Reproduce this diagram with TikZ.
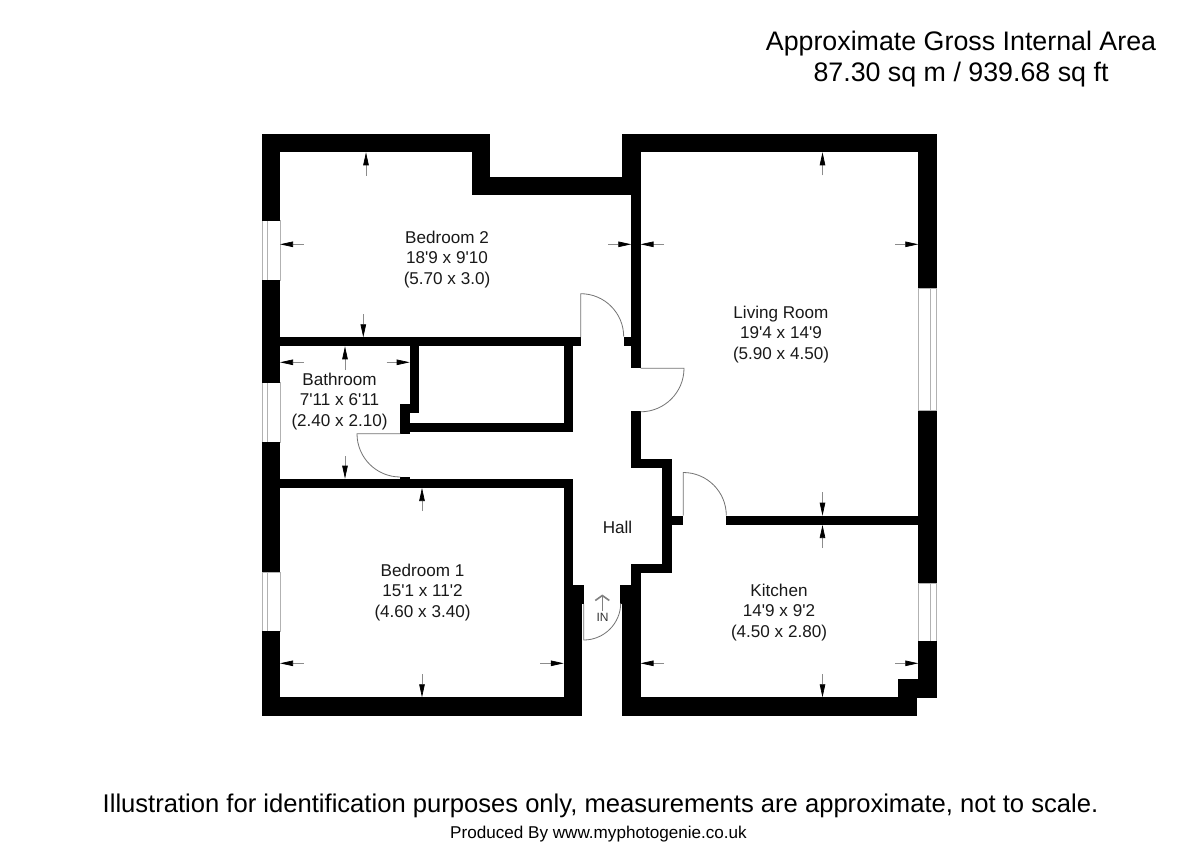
\documentclass[tikz,border=0pt]{standalone}
\usepackage{fontspec}
\setmainfont{Liberation Sans}[Ligatures=TeXOff]
\usetikzlibrary{arrows.meta}
\definecolor{thin}{gray}{0.70}
\tikzset{
  x=1pt,y=-1pt,
  wall/.style={fill=black,draw=none},
  win/.style={draw=thin,line width=1pt,fill=white},
  doorline/.style={draw=black!55,line width=0.8pt},
  dimarrow/.style={draw=black!45,line width=0.7pt,-{Triangle[length=13pt,width=5.5pt,color=black]}},
  room/.style={font=\fontsize{17.1}{20.8}\selectfont,align=center,text=black!90,inner sep=0pt},
  title/.style={font=\fontsize{26.8}{31.5}\selectfont,align=center,text=black,inner sep=0pt},
}
\newcommand{\wl}[2]{\fill[wall] (#1) rectangle (#2);}
\newcommand{\da}[2]{\draw[dimarrow] (#1) -- (#2);}
\begin{document}
\begin{tikzpicture}
\fill[white] (0,0) rectangle (1200,848);
\useasboundingbox (0,0) rectangle (1200,848);
% windows
\draw[win] (262,220.7) rectangle (280,280);   \draw[win] (267.3,220.7) -- (267.3,280);
\draw[win] (262,382.7) rectangle (280,442.3); \draw[win] (267.3,382.7) -- (267.3,442.3);
\draw[win] (262,572.3) rectangle (280,631.3); \draw[win] (267.3,572.3) -- (267.3,631.3);
\draw[win] (918.3,288.3) rectangle (936.5,410.7); \draw[win] (930.7,288.3) -- (930.7,410.7);
\draw[win] (918.3,583.3) rectangle (936.5,641.3); \draw[win] (930.7,583.3) -- (930.7,641.3);
% outer walls
\wl{261.7,133.7}{490.3,152.3}
\wl{471.7,133.7}{490.3,195.3}
\wl{471.7,176.7}{640.5,195.3}
\wl{622.3,133.7}{640.5,195.3}
\wl{622.3,133.7}{936.7,152.3}
\wl{918.3,133.7}{936.7,288.3}
\wl{918.3,410.7}{936.7,583.3}
\wl{918.3,641.3}{936.7,697.7}
\wl{898.3,679}{936.7,697.7}
\wl{898.3,679}{917,716}
\wl{622,697.3}{917,716}
\wl{261.7,133.7}{280,220.7}
\wl{261.7,280}{280,382.7}
\wl{261.7,442.3}{280,572.3}
\wl{261.7,631.3}{280,716}
\wl{261.7,697.3}{582.3,716}
% inner walls
\wl{631.3,195}{640.5,368.3}
\wl{623.7,337}{631.5,346}
\wl{631.3,411}{640.5,468.3}
\wl{631.3,459.3}{671.7,468.3}
\wl{662.3,459.3}{671.7,573}
\wl{671.5,515.7}{683.3,525}
\wl{726,515.7}{918.5,525}
\wl{631.3,563.7}{671.7,573}
\wl{631.3,563.7}{640.5,604}
\wl{620.2,585}{640.5,604}
\wl{622,604}{640.5,716}
\wl{280,337.3}{580.7,346.3}
\wl{564,346}{573,432.3}
\wl{409.7,423.3}{573,432.3}
\wl{409.7,346}{419,413.3}
\wl{400.3,404}{419,413.3}
\wl{400.3,404}{409.7,433.7}
\wl{400.3,477}{409.7,480}
\wl{280,478.7}{573,488}
\wl{564,478.7}{573,585}
\wl{563.8,585}{584.3,604}
\wl{563.8,604}{582.3,716}
\wl{563.8,585}{573,605}
% doors
\draw[doorline] (580.7,337) -- (580.7,293.7) arc[start angle=-90,end angle=0,radius=43];
\draw[doorline] (640.5,368.3) -- (684,368.3) arc[start angle=0,end angle=90,radius=43.5];
\draw[doorline] (683.3,515.7) -- (683.3,472.5) arc[start angle=-90,end angle=0,radius=43];
\draw[doorline] (400.3,433.7) -- (357,433.7) arc[start angle=180,end angle=90,radius=43.3];
\draw[doorline] (583.7,604) -- (583.7,640) arc[start angle=90,end angle=0,radius=37];
% dimension arrows
\da{366,175.7}{366,152.3}
\da{303.5,244.3}{280,244.3}
\da{608,244.3}{631.3,244.3}
\da{363.3,314}{363.3,337.3}
\da{664,244.3}{640.5,244.3}
\da{895,244.3}{918.3,244.3}
\da{822.5,175.5}{822.5,152.3}
\da{822.5,492}{822.5,515.7}
\da{345,370}{345,346.3}
\da{303.5,362.3}{280,362.3}
\da{386.5,362.3}{409.7,362.3}
\da{345,456}{345,478.7}
\da{422,511}{422,488}
\da{303.5,663.3}{280,663.3}
\da{540,663.3}{563.8,663.3}
\da{422,674}{422,697.3}
\da{822.5,548}{822.5,525}
\da{664,663.3}{640.5,663.3}
\da{895,663.3}{918.3,663.3}
\da{822.5,674}{822.5,697.3}
% entrance
\draw[black!50,line width=1.6pt,-{Straight Barb[length=5pt,width=14pt]}] (602.3,611) -- (602.3,594.5);
\node[inner sep=0pt,font=\fontsize{12}{12}\selectfont,text=black!80] (inlabel) at (602.5,617.5) {IN};
% labels
\node[room] (bed2) at (447,259.5) {Bedroom 2\\18'9 x 9'10\\(5.70 x 3.0)};
\node[room] (living) at (781,334.5) {Living Room\\19'4 x 14'9\\(5.90 x 4.50)};
\node[room] (bath) at (339.5,401.5) {Bathroom\\7'11 x 6'11\\(2.40 x 2.10)};
\node[room] (bed1) at (422.5,592.5) {Bedroom 1\\15'1 x 11'2\\(4.60 x 3.40)};
\node[room] (kitchen) at (779,612.5) {Kitchen\\14'9 x 9'2\\(4.50 x 2.80)};
\node[room] (hall) at (617.5,527) {Hall};
\node[title] (area) at (961,59) {Approximate Gross Internal Area\\87.30 sq m / 939.68 sq ft};
\node[inner sep=0pt,font=\fontsize{25.6}{30}\selectfont] (disc) at (600.5,805.5) {Illustration for identification purposes only, measurements are approximate, not to scale.};
\node[inner sep=0pt,font=\fontsize{17.1}{20}\selectfont] (prod) at (598.5,834) {Produced By www.myphotogenie.co.uk};
\end{tikzpicture}
\end{document}
